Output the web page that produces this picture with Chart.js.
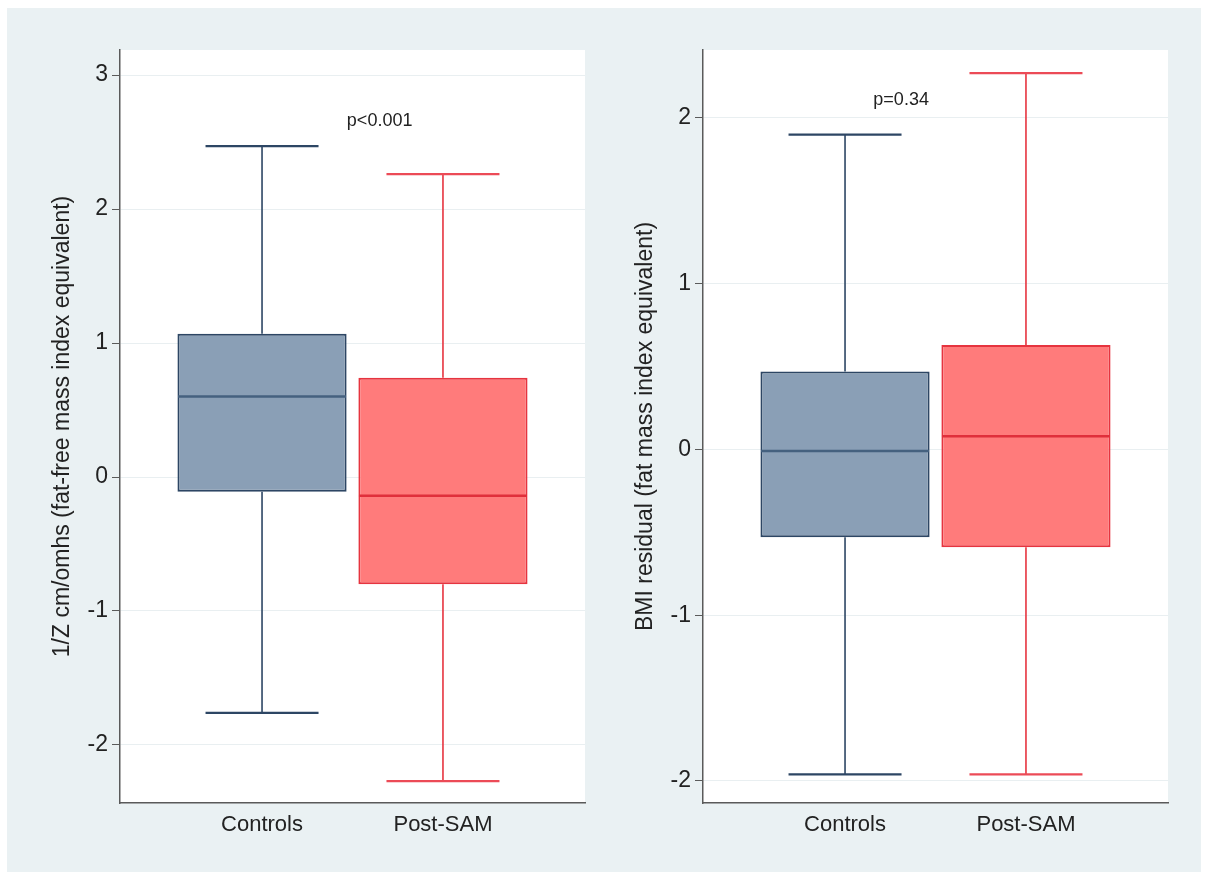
<!DOCTYPE html>
<html>
<head>
<meta charset="utf-8">
<script src="https://cdn.jsdelivr.net/npm/chart.js@4.4.1/dist/chart.umd.min.js"></script>
<style>
  html, body { margin: 0; padding: 0; background: #fff; }
  body { width: 1209px; height: 879px; position: relative; overflow: hidden; }
  .frame { position: absolute; left: 7px; top: 8px; width: 1194px; height: 864px; background: #eaf1f3; }
  .panel { position: absolute; top: 8px; height: 864px; }
  #left { left: 7px; width: 593px; }
  #right { left: 600px; width: 601px; }
</style>
</head>
<body>
<div class="frame"></div>
<div class="panel" id="left"><canvas id="ffmChart"></canvas></div>
<div class="panel" id="right"><canvas id="fmChart"></canvas></div>
<script>
const groups = ['Controls', 'Post-SAM'];
const groupPos = [1, 2];

// left panel: 1/Z (fat-free mass index equivalent)
const ffmMin = [-1.76, -2.27];
const ffmQ1 = [-0.11, -0.80];
const ffmMedian = [0.60, -0.14];
const ffmQ3 = [1.07, 0.74];
const ffmMax = [2.47, 2.26];
const ffmTicks = [-2, -1, 0, 1, 2, 3];

// right panel: BMI residual (fat mass index equivalent)
const fmMin = [-1.96, -1.96];
const fmQ1 = [-0.53, -0.59];
const fmMedian = [-0.01, 0.08];
const fmQ3 = [0.47, 0.63];
const fmMax = [1.90, 2.27];
const fmTicks = [-2, -1, 0, 1, 2];

const fillColors = ['#8a9fb6', '#ff7b7b'];
const lineColors = ['#2d4664', '#e6343f'];
const medianColors = ['#45617f', '#e02f3b'];
const capColors = ['#2d4664', '#ec4b57'];

const FONT = '"Liberation Sans", Arial, sans-serif';

const plotBg = {
  id: 'plotBg',
  beforeDraw(chart) {
    const { ctx, chartArea: a } = chart;
    ctx.save();
    ctx.fillStyle = '#ffffff';
    ctx.fillRect(a.left, a.top, a.right - a.left, a.bottom - a.top);
    ctx.restore();
  }
};

const pLabel = {
  id: 'pLabel',
  afterDatasetsDraw(chart) {
    const o = chart.options.plugins.pLabel;
    if (!o) return;
    const { ctx, scales } = chart;
    ctx.save();
    ctx.font = '18px ' + FONT;
    ctx.fillStyle = '#222';
    ctx.textAlign = 'center';
    ctx.textBaseline = 'middle';
    ctx.fillText(o.text, scales.x.getPixelForValue(o.x), scales.y.getPixelForValue(o.y));
    ctx.restore();
  }
};

function makeBoxChart(id, d) {
  const pts = (arr) => groupPos.map((x, i) => ({ x, y: arr[i] }));
  const range = (lo, hi) => groupPos.map((x, i) => ({ x, y: [lo[i], hi[i]] }));

  new Chart(document.getElementById(id), {
    type: 'bar',
    data: {
      datasets: [
        {
          label: 'box',
          data: range(d.q1, d.q3),
          backgroundColor: fillColors,
          borderColor: lineColors,
          borderWidth: 2,
          borderSkipped: false,
          grouped: false,
          barPercentage: 0.935,
          categoryPercentage: 1,
          order: 2
        },
        {
          label: 'upper whisker',
          data: range(d.q3, d.max),
          backgroundColor: lineColors,
          borderWidth: 0,
          grouped: false,
          maxBarThickness: 1.6,
          order: 3
        },
        {
          label: 'lower whisker',
          data: range(d.min, d.q1),
          backgroundColor: lineColors,
          borderWidth: 0,
          grouped: false,
          maxBarThickness: 1.6,
          order: 3
        },
        {
          type: 'scatter',
          label: 'caps',
          data: pts(d.max).concat(pts(d.min)),
          pointStyle: 'line',
          pointRadius: 56.5,
          pointHoverRadius: 56.5,
          pointBorderWidth: 2.2,
          pointBorderColor: capColors.concat(capColors),
          order: 1
        },
        {
          type: 'scatter',
          label: 'median',
          data: pts(d.median),
          pointStyle: 'line',
          pointRadius: 84,
          pointHoverRadius: 84,
          pointBorderWidth: 2.5,
          pointBorderColor: medianColors,
          order: 0
        }
      ]
    },
    options: {
      responsive: true,
      maintainAspectRatio: false,
      animation: false,
      events: [],
      layout: { autoPadding: false, padding: { top: 42, right: d.padRight, left: 0, bottom: 0 } },
      plugins: {
        legend: { display: false },
        tooltip: { enabled: false },
        pLabel: { text: d.pText, x: d.pX, y: d.pY }
      },
      scales: {
        x: {
          type: 'linear',
          min: 0.215,
          max: 2.785,
          offset: false,
          afterBuildTicks: (s) => { s.ticks = groupPos.map(v => ({ value: v })); },
          afterFit: (s) => { s.height = 69; },
          grid: { display: false, drawTicks: false, offset: false },
          border: { display: true, color: '#5a5a5a', width: 1.5 },
          ticks: {
            padding: 9,
            color: '#222',
            font: { family: FONT, size: 22 },
            callback: (v) => groups[groupPos.indexOf(v)] || ''
          }
        },
        y: {
          min: d.yMin,
          max: d.yMax,
          afterBuildTicks: (s) => { s.ticks = d.ticks.map(v => ({ value: v })); },
          afterFit: (s) => { s.width = d.yWidth; },
          grid: { color: '#e9eff1', lineWidth: 1, tickColor: '#5a5a5a', tickLength: 8 },
          border: { display: true, color: '#5a5a5a', width: 1.5 },
          ticks: {
            padding: 4,
            color: '#222',
            font: { family: FONT, size: 23 },
            callback: (v) => String(v)
          },
          title: {
            display: true,
            text: d.title,
            color: '#222',
            font: { family: FONT, size: 23 },
            padding: { top: d.titlePad, bottom: 0 }
          }
        }
      }
    },
    plugins: [plotBg, pLabel]
  });
}

makeBoxChart('ffmChart', {
  min: ffmMin, q1: ffmQ1, median: ffmMedian, q3: ffmQ3, max: ffmMax,
  ticks: ffmTicks, yMin: -2.433, yMax: 3.187,
  title: '1/Z cm/omhs (fat-free mass index equivalent)',
  pText: 'p<0.001', pX: 1.65, pY: 2.66,
  yWidth: 113, padRight: 15, titlePad: 42
});

makeBoxChart('fmChart', {
  min: fmMin, q1: fmQ1, median: fmMedian, q3: fmQ3, max: fmMax,
  ticks: fmTicks, yMin: -2.133, yMax: 2.41,
  title: 'BMI residual (fat mass index equivalent)',
  pText: 'p=0.34', pX: 1.31, pY: 2.11,
  yWidth: 103, padRight: 33, titlePad: 32
});
</script>
</body>
</html>
